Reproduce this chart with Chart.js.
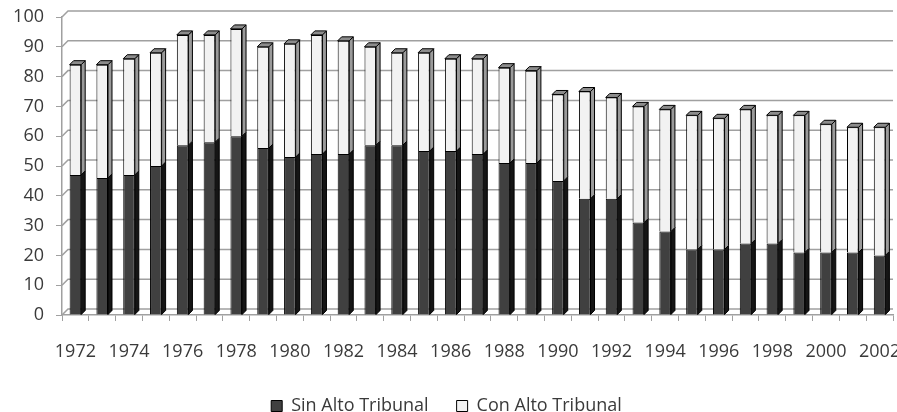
<!DOCTYPE html>
<html lang="es">
<head>
    <meta charset="UTF-8">
    <title>Sin / Con Alto Tribunal</title>
    <script src="https://cdn.jsdelivr.net/npm/chart.js@4.4.0/dist/chart.umd.min.js"></script>
    <style>
        html, body { margin: 0; padding: 0; background: #fff; }
        #wrap { width: 897px; height: 412px; }
    </style>
</head>
<body>
    <div id="wrap"><canvas id="myChart"></canvas></div>

    <script>
        const years = ['1972', '1973', '1974', '1975', '1976', '1977', '1978', '1979', '1980', '1981',
                       '1982', '1983', '1984', '1985', '1986', '1987', '1988', '1989', '1990', '1991',
                       '1992', '1993', '1994', '1995', '1996', '1997', '1998', '1999', '2000', '2001', '2002'];

        const sinAlto = [47, 46, 47, 50, 57, 58, 60, 56, 53, 54, 54, 57, 57, 55, 55, 54, 51, 51, 45, 39,
                         39, 31, 28, 22, 22, 24, 24, 21, 21, 21, 20];
        const conAlto = [37, 38, 39, 38, 37, 36, 36, 34, 38, 40, 38, 33, 31, 33, 31, 32, 32, 31, 29, 36,
                         34, 39, 41, 45, 44, 45, 43, 46, 43, 42, 43];

        const yTicks = [0, 10, 20, 30, 40, 50, 60, 70, 80, 90, 100];

        const depth = 4; // fake 3d offset
        const textColor = '#3a3a3a';
        const gridColor = '#a0a0a0';

        // back wall grid lines, drawn like the excel 3d chart
        const wallPlugin = {
            id: 'wall',
            beforeDatasetsDraw(chart) {
                const { ctx, chartArea } = chart;
                const y = chart.scales.y;
                ctx.save();
                ctx.strokeStyle = gridColor;
                ctx.lineWidth = 1.5;
                yTicks.forEach(v => {
                    const py = y.getPixelForValue(v);
                    ctx.beginPath();
                    ctx.moveTo(chartArea.left, py);
                    ctx.lineTo(chartArea.left + depth + 2, py - depth - 2);
                    ctx.lineTo(chartArea.right, py - depth - 2);
                    ctx.stroke();
                });
                ctx.restore();
            }
        };

        // side and top faces of the bars
        const sidePlugin = {
            id: 'sides',
            afterDatasetsDraw(chart) {
                const { ctx } = chart;
                ctx.save();
                ctx.strokeStyle = '#000';
                ctx.lineWidth = 1;
                chart.data.datasets.forEach((ds, di) => {
                    const meta = chart.getDatasetMeta(di);
                    meta.data.forEach(bar => {
                        const r = bar.x + bar.width / 2;
                        const l = bar.x - bar.width / 2;
                        ctx.fillStyle = ds.sideColor;
                        ctx.beginPath();
                        ctx.moveTo(r, bar.y);
                        ctx.lineTo(r + depth, bar.y - depth);
                        ctx.lineTo(r + depth, bar.base - depth);
                        ctx.lineTo(r, bar.base);
                        ctx.closePath();
                        ctx.fill();
                        ctx.stroke();
                        if (di === chart.data.datasets.length - 1) {
                            ctx.fillStyle = '#8c8c8c';
                            ctx.beginPath();
                            ctx.moveTo(l, bar.y);
                            ctx.lineTo(l + depth, bar.y - depth);
                            ctx.lineTo(r + depth, bar.y - depth);
                            ctx.lineTo(r, bar.y);
                            ctx.closePath();
                            ctx.fill();
                            ctx.stroke();
                        }
                    });
                });
                ctx.restore();
            }
        };

        const ctx = document.getElementById('myChart').getContext('2d');

        new Chart(ctx, {
            type: 'bar',
            data: {
                labels: years,
                datasets: [
                    {
                        label: 'Sin Alto Tribunal',
                        data: sinAlto,
                        backgroundColor: '#404040',
                        sideColor: '#151515',
                        borderColor: '#000',
                        borderWidth: 1,
                        barPercentage: 0.9,
                        categoryPercentage: 0.48
                    },
                    {
                        label: 'Con Alto Tribunal',
                        data: conAlto,
                        backgroundColor: '#f2f2f2',
                        sideColor: '#9a9a9a',
                        borderColor: '#000',
                        borderWidth: 1,
                        barPercentage: 0.9,
                        categoryPercentage: 0.48
                    }
                ]
            },
            options: {
                responsive: true,
                maintainAspectRatio: false,
                animation: false,
                layout: {
                    // negative bottom so the legend sits low, as in the original
                    padding: { left: 0, right: 4, top: 17, bottom: -13 }
                },
                scales: {
                    x: {
                        stacked: true,
                        grid: {
                            drawOnChartArea: false,
                            tickLength: 6,
                            color: gridColor
                        },
                        border: { color: gridColor, width: 1.5 },
                        ticks: {
                            autoSkip: false,
                            maxRotation: 0,
                            padding: 20,
                            color: textColor,
                            font: { family: 'Open Sans', size: 18 },
                            callback: function(value, index) {
                                return index % 2 === 0 ? years[index] : '';
                            }
                        },
                        afterFit: function(scale) {
                            scale.height = 54;
                            scale.paddingLeft = 0;
                            scale.paddingRight = 0;
                        }
                    },
                    y: {
                        stacked: true,
                        min: 0,
                        max: 100,
                        grid: {
                            drawOnChartArea: false,
                            tickLength: 6,
                            color: gridColor
                        },
                        border: { color: gridColor, width: 1.5 },
                        ticks: {
                            stepSize: 10,
                            padding: 12,
                            color: textColor,
                            font: { family: 'Open Sans', size: 18 }
                        },
                        afterFit: function(scale) {
                            scale.width = 62;
                            scale.paddingTop = 0;
                            scale.paddingBottom = 0;
                        }
                    }
                },
                plugins: {
                    legend: {
                        position: 'bottom',
                        labels: {
                            boxWidth: 11,
                            boxHeight: 11,
                            padding: 28,
                            color: textColor,
                            font: { family: 'Open Sans', size: 18 }
                        }
                    },
                    tooltip: { enabled: false }
                }
            },
            plugins: [wallPlugin, sidePlugin]
        });
    </script>
</body>
</html>
